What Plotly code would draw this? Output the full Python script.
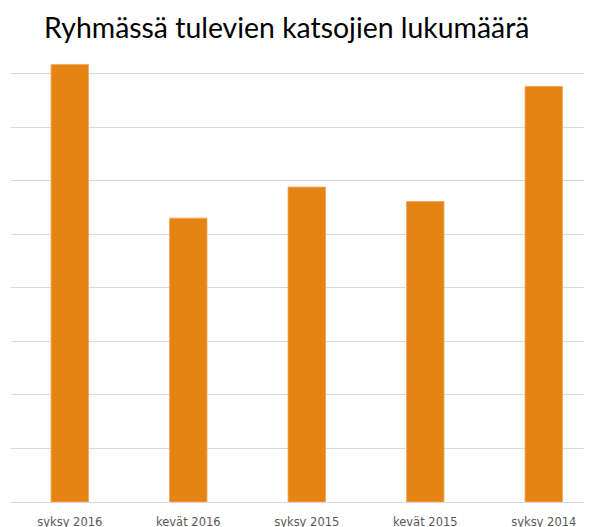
import plotly.graph_objects as go

categories = ["syksy 2016", "kevät 2016", "syksy 2015", "kevät 2015", "syksy 2014"]
values = [8.17, 5.30, 5.88, 5.61, 7.76]

# The page body has an 8px margin, so the figure is sized/offset to compensate.
W, H = 584, 519

fig = go.Figure(go.Bar(
    x=categories, y=values,
    marker=dict(color="#E68413", line=dict(color="#EFA35A", width=0.8)),
    width=0.316,
))

fig.update_layout(
    width=W, height=H,
    margin=dict(l=3, r=0, t=12, b=25, autoexpand=False),
    plot_bgcolor="white", paper_bgcolor="white",
    showlegend=False,
    title=dict(
        text="Ryhmässä tulevien katsojien lukumäärä",
        font=dict(family="Lato", size=28.4, color="#000000"),
        xref="container", yref="container",
        x=36/W, xanchor="left",
        y=1 - 20/H, yanchor="middle",
    ),
)
fig.update_xaxes(
    range=[-0.496, 4.407],
    showgrid=False, showline=False, zeroline=False,
    tickfont=dict(family="DejaVu Sans", size=11.5, color="#595959"),
    ticklabelstandoff=11,
    automargin=False,
    fixedrange=True,
)
fig.update_yaxes(
    range=[0, 9], dtick=1,
    showgrid=True, gridcolor="#D9D9D9", gridwidth=1,
    zeroline=True, zerolinecolor="#D9D9D9", zerolinewidth=1,
    showticklabels=False, showline=False,
    automargin=False,
    fixedrange=True,
)

fig.write_html("out.html")
